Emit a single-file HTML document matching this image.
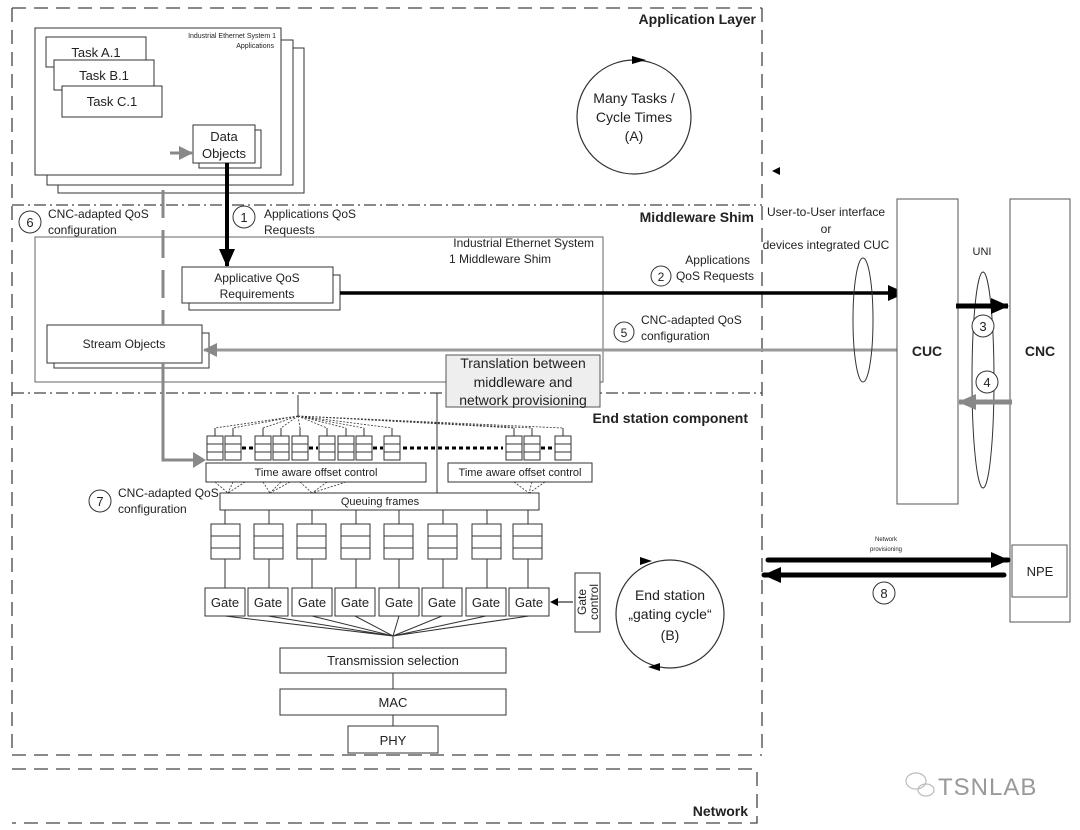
<!DOCTYPE html>
<html><head><meta charset="utf-8"><style>
html,body{margin:0;padding:0;background:#fff;width:1080px;height:830px;overflow:hidden}
svg{display:block}
text{font-family:"Liberation Sans","DejaVu Sans",sans-serif;fill:#222}
</style></head><body>
<svg width="1080" height="830" viewBox="0 0 1080 830" xmlns="http://www.w3.org/2000/svg">
<defs>
<marker id="ab" markerWidth="8" markerHeight="8" refX="7" refY="4" orient="auto" markerUnits="userSpaceOnUse"><path d="M0,0 L8,4 L0,8z" fill="#000"/></marker>
<marker id="abig" markerWidth="18" markerHeight="16" refX="17" refY="8" orient="auto" markerUnits="userSpaceOnUse"><path d="M0,0 L18,8 L0,16z" fill="#000"/></marker>
<marker id="ag" markerWidth="14" markerHeight="14" refX="13" refY="7" orient="auto" markerUnits="userSpaceOnUse"><path d="M0,0 L14,7 L0,14z" fill="#888"/></marker>
<marker id="agbig" markerWidth="18" markerHeight="16" refX="17" refY="8" orient="auto" markerUnits="userSpaceOnUse"><path d="M0,0 L18,8 L0,16z" fill="#888"/></marker>
</defs>
<g fill="none" stroke="#444" stroke-width="1.3">
<path d="M12,8 H762 M12,8 V755 M762,8 V755 M12,755 H762" stroke-dasharray="14,8"/>
<path d="M12,205 H762 M12,393 H762" stroke-dasharray="12,4,2,4"/>
<path d="M12,769 H757 V823 H12" stroke-dasharray="14,8"/>
</g>
<text x="756" y="24" font-size="14" text-anchor="end" font-weight="bold">Application Layer</text>
<text x="754" y="222" font-size="14" text-anchor="end" font-weight="bold">Middleware Shim</text>
<text x="748" y="423" font-size="14" text-anchor="end" font-weight="bold">End station component</text>
<text x="748" y="816" font-size="14" text-anchor="end" font-weight="bold">Network</text>
<g fill="#fff" stroke="#333" stroke-width="1">
<rect x="58" y="48" width="246" height="145"/>
<rect x="47" y="40" width="246" height="145"/>
<rect x="35" y="28" width="246" height="147"/>
<rect x="46" y="37" width="100" height="30"/>
<rect x="54" y="60" width="100" height="30"/>
<rect x="62" y="86" width="100" height="31"/>
<rect x="199" y="130" width="62" height="38"/>
<rect x="193" y="125" width="62" height="38"/>
</g>
<text x="276" y="38" font-size="7" text-anchor="end">Industrial Ethernet System 1</text>
<text x="274" y="48" font-size="7" text-anchor="end">Applications</text>
<g font-size="13" text-anchor="middle">
<text x="96" y="57">Task A.1</text><text x="104" y="80">Task B.1</text><text x="112" y="106">Task C.1</text>
<text x="224" y="141">Data</text><text x="224" y="158">Objects</text>
</g>
<line x1="170" y1="153" x2="192" y2="153" stroke="#888" stroke-width="3" marker-end="url(#ag)"/>
<circle cx="634" cy="117" r="57" fill="none" stroke="#333" stroke-width="1.2"/>
<path d="M632,56 L646,60 L632,64z" fill="#000"/>
<g font-size="14" text-anchor="middle"><text x="634" y="103">Many Tasks /</text><text x="634" y="122">Cycle Times</text><text x="634" y="141">(A)</text></g>
<path d="M772,171 L780,167 L780,175z" fill="#000"/>
<rect x="35" y="237" width="568" height="145" fill="none" stroke="#666" stroke-width="1"/>
<text x="594" y="247" font-size="12" text-anchor="end">Industrial Ethernet System</text>
<text x="449" y="263" font-size="12">1 Middleware Shim</text>
<g fill="#fff" stroke="#333" stroke-width="1">
<rect x="189" y="275" width="151" height="35"/>
<rect x="182" y="267" width="151" height="36"/>
<rect x="54" y="333" width="155" height="35"/>
<rect x="47" y="325" width="155" height="38"/>
</g>
<g font-size="12" text-anchor="middle">
<text x="257" y="282">Applicative QoS</text><text x="257" y="298">Requirements</text>
<text x="124" y="348">Stream Objects</text>
</g>
<rect x="446" y="355" width="154" height="52" fill="#eee" stroke="#555"/>
<g font-size="14" text-anchor="middle"><text x="523" y="368">Translation between</text><text x="523" y="387">middleware and</text><text x="523" y="405">network provisioning</text></g>
<path d="M163,190 V325" fill="none" stroke="#888" stroke-width="3" stroke-dasharray="28,12" />
<path d="M163,363 V460 H195" fill="none" stroke="#888" stroke-width="3"/>
<path d="M193,452 L206,460 L193,468z" fill="#888"/>
<line x1="227" y1="163" x2="227" y2="266" stroke="#000" stroke-width="4" marker-end="url(#abig)"/>
<circle cx="30" cy="222" r="11" fill="#fff" stroke="#333"/><text x="30" y="227" font-size="13" text-anchor="middle">6</text>
<text x="48" y="218" font-size="12">CNC-adapted QoS</text><text x="48" y="234" font-size="12">configuration</text>
<circle cx="244" cy="217" r="11" fill="#fff" stroke="#333"/><text x="244" y="222" font-size="13" text-anchor="middle">1</text>
<text x="264" y="218" font-size="12">Applications QoS</text><text x="264" y="234" font-size="12">Requests</text>
<line x1="340" y1="293" x2="905" y2="293" stroke="#000" stroke-width="3.5" marker-end="url(#abig)"/>
<circle cx="661" cy="276" r="10" fill="#fff" stroke="#333"/><text x="661" y="281" font-size="12" text-anchor="middle">2</text>
<text x="750" y="264" font-size="12" text-anchor="end">Applications</text><text x="754" y="280" font-size="12" text-anchor="end">QoS Requests</text>
<line x1="898" y1="350" x2="204" y2="350" stroke="#999" stroke-width="3" marker-end="url(#ag)"/>
<circle cx="624" cy="332" r="10" fill="#fff" stroke="#333"/><text x="624" y="337" font-size="12" text-anchor="middle">5</text>
<text x="641" y="324" font-size="12">CNC-adapted QoS</text><text x="641" y="340" font-size="12">configuration</text>
<g font-size="12" text-anchor="middle"><text x="826" y="216">User-to-User interface</text><text x="826" y="233">or</text><text x="826" y="249">devices integrated CUC</text></g>
<ellipse cx="863" cy="320" rx="10" ry="62" fill="none" stroke="#333"/>
<rect x="897" y="199" width="61" height="305" fill="#fff" stroke="#555"/>
<rect x="1010" y="199" width="60" height="423" fill="#fff" stroke="#555"/>
<text x="927" y="356" font-size="14" font-weight="bold" text-anchor="middle">CUC</text>
<text x="1040" y="356" font-size="14" font-weight="bold" text-anchor="middle">CNC</text>
<text x="982" y="255" font-size="11" text-anchor="middle">UNI</text>
<ellipse cx="983" cy="380" rx="11" ry="108" fill="none" stroke="#333"/>
<line x1="956" y1="306" x2="1008" y2="306" stroke="#000" stroke-width="5" marker-end="url(#abig)"/>
<circle cx="983" cy="326" r="11" fill="#fff" stroke="#333"/><text x="983" y="331" font-size="13" text-anchor="middle">3</text>
<circle cx="987" cy="382" r="11" fill="#fff" stroke="#333"/><text x="987" y="387" font-size="13" text-anchor="middle">4</text>
<line x1="1012" y1="402" x2="959" y2="402" stroke="#888" stroke-width="5" marker-end="url(#agbig)"/>
<rect x="1012" y="545" width="55" height="52" fill="#fff" stroke="#555"/>
<text x="1040" y="576" font-size="13" text-anchor="middle">NPE</text>
<text x="886" y="541" font-size="6" text-anchor="middle">Network</text><text x="886" y="551" font-size="6" text-anchor="middle">provisioning</text>
<line x1="768" y1="560" x2="1008" y2="560" stroke="#000" stroke-width="5" stroke-linecap="round" marker-end="url(#abig)"/>
<line x1="1004" y1="575" x2="764" y2="575" stroke="#000" stroke-width="5" stroke-linecap="round" marker-end="url(#abig)"/>
<circle cx="884" cy="593" r="11" fill="#fff" stroke="#333"/><text x="884" y="598" font-size="13" text-anchor="middle">8</text>
<line x1="298" y1="395" x2="298" y2="416" stroke="#333"/>
<line x1="437" y1="393" x2="437" y2="493" stroke="#333"/>
<g stroke="#333" stroke-width="0.8" stroke-dasharray="2,1.5" fill="none">
<path d="M298,416 L215,428 M298,416 L233,428 M298,416 L263,428 M298,416 L281,428 M298,416 L300,428 M298,416 L327,428 M298,416 L346,428 M298,416 L364,428 M298,416 L392,428 M298,416 L514,428 M298,416 L532,428 M298,416 L563,428"/>
<path d="M215,482 L228,493 M233,482 L228,493 M245,482 L228,493 M263,482 L270,493 M281,482 L270,493 M290,482 L270,493 M300,482 L312,493 M327,482 L312,493 M346,482 L312,493 M514,482 L529,493 M532,482 L529,493 M545,482 L529,493"/>
</g>
<g stroke="#333" stroke-width="1">
<path d="M215,428V436 M233,428V436 M263,428V436 M281,428V436 M300,428V436 M327,428V436 M346,428V436 M364,428V436 M392,428V436 M514,428V436 M532,428V436 M563,428V436"/>
</g>
<g fill="#fff" stroke="#333" stroke-width="1">
<rect x="207" y="436" width="16" height="24"/><rect x="225" y="436" width="16" height="24"/>
<rect x="255" y="436" width="16" height="24"/><rect x="273" y="436" width="16" height="24"/><rect x="292" y="436" width="16" height="24"/>
<rect x="319" y="436" width="16" height="24"/><rect x="338" y="436" width="16" height="24"/><rect x="356" y="436" width="16" height="24"/>
<rect x="384" y="436" width="16" height="24"/>
<rect x="506" y="436" width="16" height="24"/><rect x="524" y="436" width="16" height="24"/><rect x="555" y="436" width="16" height="24"/>
</g>
<g stroke="#333" stroke-width="1">
<path d="M207,444h16M207,452h16 M225,444h16M225,452h16 M255,444h16M255,452h16 M273,444h16M273,452h16 M292,444h16M292,452h16 M319,444h16M319,452h16 M338,444h16M338,452h16 M356,444h16M356,452h16 M384,444h16M384,452h16 M506,444h16M506,452h16 M524,444h16M524,452h16 M555,444h16M555,452h16"/>
</g>
<g stroke="#000" stroke-width="3" stroke-dasharray="4,3">
<path d="M242,448H254 M309,448H318 M373,448H383 M403,448H503 M541,448H554"/>
</g>
<rect x="206" y="463" width="220" height="19" fill="#fff" stroke="#333"/>
<rect x="448" y="463" width="144" height="19" fill="#fff" stroke="#333"/>
<text x="316" y="476" font-size="11" text-anchor="middle">Time aware offset control</text>
<text x="520" y="476" font-size="11" text-anchor="middle">Time aware offset control</text>
<rect x="220" y="493" width="319" height="17" fill="#fff" stroke="#333"/>
<text x="380" y="505" font-size="11" text-anchor="middle">Queuing frames</text>
<circle cx="100" cy="501" r="11" fill="#fff" stroke="#333"/><text x="100" y="506" font-size="13" text-anchor="middle">7</text>
<text x="118" y="497" font-size="12">CNC-adapted QoS</text><text x="118" y="513" font-size="12">configuration</text>
<g stroke="#333" stroke-width="1" fill="#fff">
<path d="M225,510V524 M269,510V524 M312,510V524 M356,510V524 M399,510V524 M443,510V524 M487,510V524 M528,510V524"/>
<path d="M225,559V588 M269,559V588 M312,559V588 M356,559V588 M399,559V588 M443,559V588 M487,559V588 M528,559V588"/>
<rect x="211" y="524" width="29" height="35"/><rect x="254" y="524" width="29" height="35"/><rect x="297" y="524" width="29" height="35"/><rect x="341" y="524" width="29" height="35"/><rect x="384" y="524" width="29" height="35"/><rect x="428" y="524" width="29" height="35"/><rect x="472" y="524" width="29" height="35"/><rect x="513" y="524" width="29" height="35"/>
<path d="M211,536h29M211,548h29 M254,536h29M254,548h29 M297,536h29M297,548h29 M341,536h29M341,548h29 M384,536h29M384,548h29 M428,536h29M428,548h29 M472,536h29M472,548h29 M513,536h29M513,548h29"/>
<rect x="205" y="588" width="40" height="28"/><rect x="248" y="588" width="40" height="28"/><rect x="292" y="588" width="40" height="28"/><rect x="335" y="588" width="40" height="28"/><rect x="379" y="588" width="40" height="28"/><rect x="422" y="588" width="40" height="28"/><rect x="466" y="588" width="40" height="28"/><rect x="509" y="588" width="40" height="28"/>
<path d="M225,616L393,636 M268,616L393,636 M312,616L393,636 M355,616L393,636 M399,616L393,636 M442,616L393,636 M486,616L393,636 M529,616L393,636 M393,636V648 M393,673V689 M393,715V726" fill="none"/>
<rect x="280" y="648" width="226" height="25"/><rect x="280" y="689" width="226" height="26"/><rect x="348" y="726" width="90" height="27"/>
<rect x="575" y="573" width="25" height="59"/>
</g>
<g font-size="13" text-anchor="middle">
<text x="225" y="607">Gate</text><text x="268" y="607">Gate</text><text x="312" y="607">Gate</text><text x="355" y="607">Gate</text><text x="399" y="607">Gate</text><text x="442" y="607">Gate</text><text x="486" y="607">Gate</text><text x="529" y="607">Gate</text>
<text x="393" y="665">Transmission selection</text><text x="393" y="707">MAC</text><text x="393" y="745">PHY</text>
</g>
<text transform="translate(587,602) rotate(-90)" font-size="12" text-anchor="middle"><tspan x="0" y="-1">Gate</tspan><tspan x="0" y="11">control</tspan></text>
<line x1="573" y1="602" x2="551" y2="602" stroke="#000" stroke-width="1" marker-end="url(#ab)"/>
<circle cx="670" cy="614" r="54" fill="none" stroke="#333" stroke-width="1.2"/>
<path d="M640,557 L652,561 L640,565z" fill="#000"/>
<path d="M660,663 L648,667 L660,671z" fill="#000"/>
<g font-size="14" text-anchor="middle"><text x="670" y="600">End station</text><text x="670" y="619">„gating cycle“</text><text x="670" y="640">(B)</text></g>
<g stroke="#bbb" fill="none" stroke-width="1.2"><ellipse cx="916" cy="781" rx="10" ry="8"/><ellipse cx="926" cy="790" rx="8" ry="6"/></g>
<text x="938" y="795" font-size="24" style="fill:#999" letter-spacing="1">TSNLAB</text>
</svg>
</body></html>
